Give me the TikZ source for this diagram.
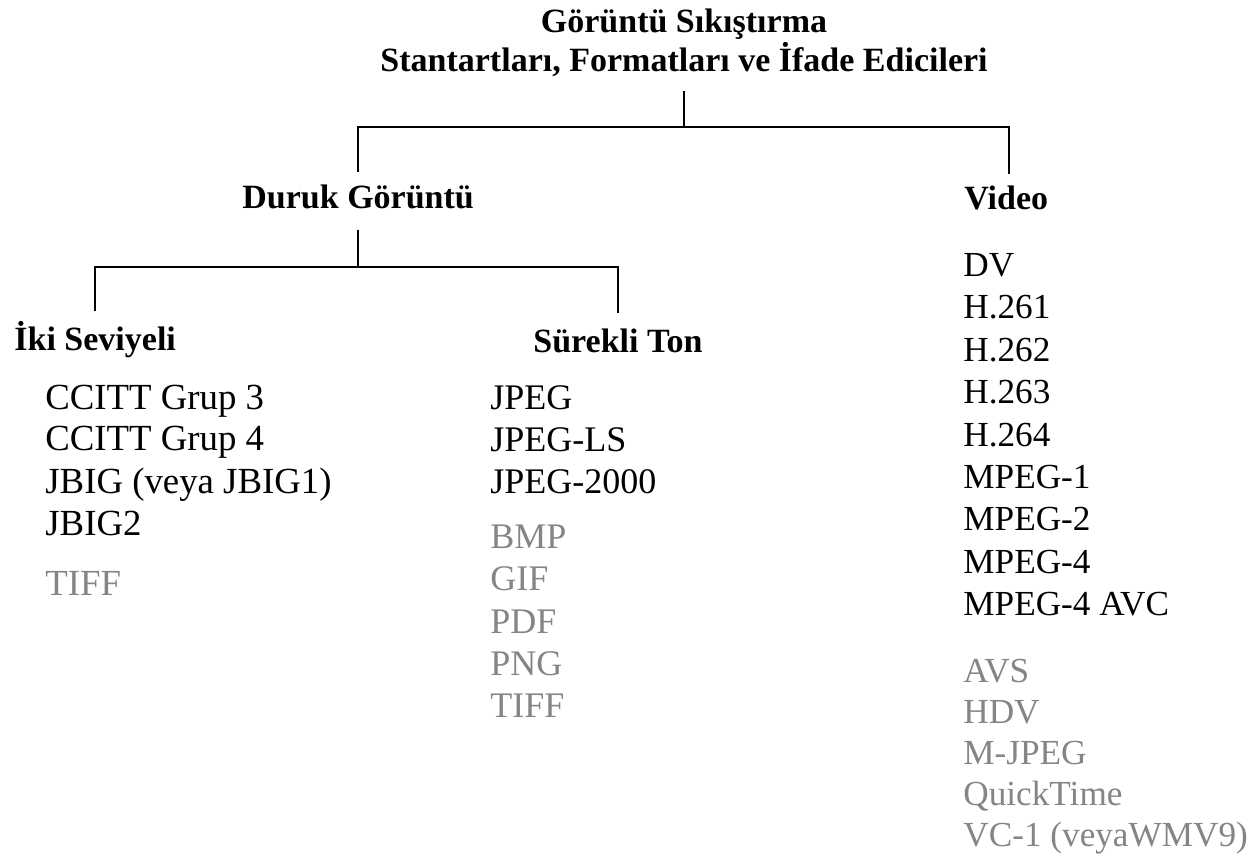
\documentclass[tikz,border=0pt]{standalone}
\usepackage{fontspec}
\setmainfont{Liberation Serif}
\begin{document}
\begin{tikzpicture}[x=0.5pt,y=-0.5pt,
  conn/.style={line width=1pt,black},
  ttl/.style={font=\bfseries\fontsize{17}{17}\selectfont,align=center,inner sep=0pt},
  hd/.style={font=\bfseries\fontsize{17}{17}\selectfont,inner sep=0pt,anchor=base west,text height=12.5pt,text depth=0pt},
  item/.style={inner sep=0pt,anchor=base west},
  litem/.style={item,font=\fontsize{18.4}{18}\selectfont},
  mitem/.style={item,font=\fontsize{18}{18}\selectfont},
  vitem/.style={item,font=\fontsize{17.6}{18}\selectfont},
  gray/.style={text=black!48}]
\useasboundingbox[fill=white] (0,0) rectangle (1251,861);
\node[ttl,anchor=north] (title) at (684,9) {Görüntü Sıkıştırma\\Stantartları, Formatları ve İfade Edicileri};
\node[hd] (duruk) at (242,208) {Duruk Görüntü};
\node[hd] (video) at (964,210) {Video};
\node[hd] (iki) at (14,350) {İki Seviyeli};
\node[hd] (surekli) at (533,352) {Sürekli Ton};
% connectors
\coordinate (j1) at (684,127);
\coordinate (j2) at (358,267);
\draw[conn] ([yshift=-7pt]title.south) -- (j1);
\draw[conn] ([yshift=5.5pt]duruk.north) |- (j1) -| ([xshift=1.5pt,yshift=5.5pt]video.north);
\draw[conn] ([yshift=-11pt]duruk.south) -- (duruk.south |- j2);
\draw[conn] ([yshift=7pt]iki.north) |- (j2) -| ([yshift=7pt]surekli.north);
% left column
\node[litem] (a1) at (45,409) {CCITT Grup 3};
\node[litem] (a2) at (45,450) {CCITT Grup 4};
\node[litem] (a3) at (45,493) {JBIG (veya JBIG1)};
\node[litem] (a4) at (45,535) {JBIG2};
\node[litem,gray] (a5) at (45,595) {TIFF};
% middle column
\node[mitem] (b1) at (490,409) {JPEG};
\node[mitem] (b2) at (490,451) {JPEG-LS};
\node[mitem] (b3) at (490,493) {JPEG-2000};
\node[mitem,gray] (b4) at (490,548) {BMP};
\node[mitem,gray] (b5) at (490,590) {GIF};
\node[mitem,gray] (b6) at (490,633) {PDF};
\node[mitem,gray] (b7) at (490,675) {PNG};
\node[mitem,gray] (b8) at (490,717) {TIFF};
% video column
\node[vitem] (c1) at (963,276) {DV};
\node[vitem] (c2) at (963,318) {H.261};
\node[vitem] (c3) at (963,361) {H.262};
\node[vitem] (c4) at (963,403) {H.263};
\node[vitem] (c5) at (963,446) {H.264};
\node[vitem] (c6) at (963,488) {MPEG-1};
\node[vitem] (c7) at (963,530) {MPEG-2};
\node[vitem] (c8) at (963,573) {MPEG-4};
\node[vitem] (c9) at (963,615) {MPEG-4 AVC};
\node[vitem,gray] (d1) at (963,682) {AVS};
\node[vitem,gray] (d2) at (963,723) {HDV};
\node[vitem,gray] (d3) at (963,764) {M-JPEG};
\node[vitem,gray] (d4) at (963,805) {QuickTime};
\node[vitem,gray] (d5) at (963,846) {VC-1 (veyaWMV9)};
\end{tikzpicture}
\end{document}
